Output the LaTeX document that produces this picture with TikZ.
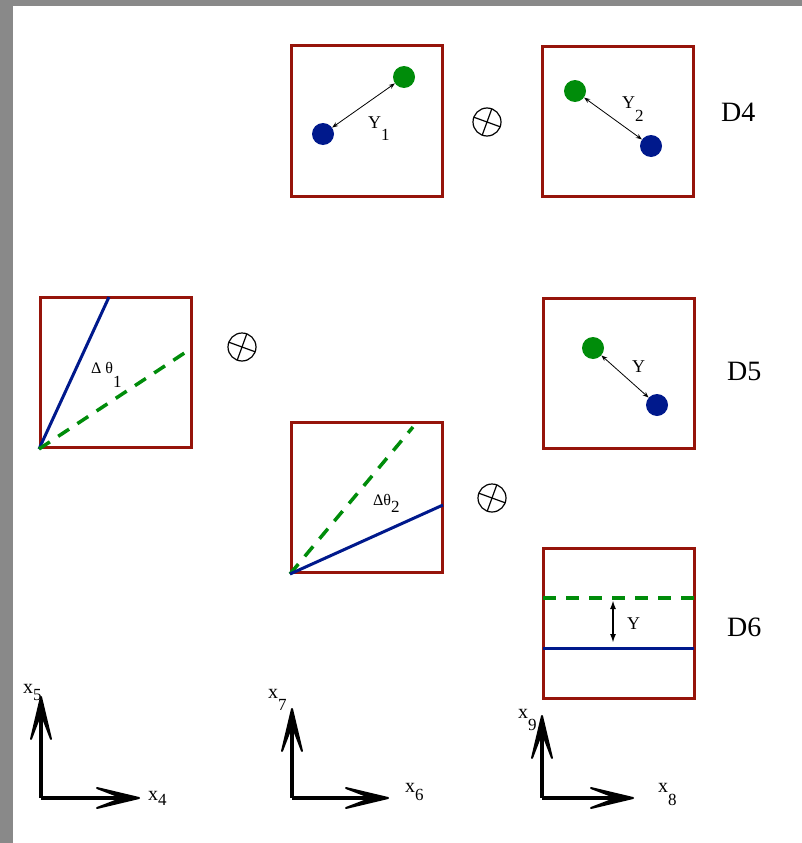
\documentclass[tikz,border=0pt]{standalone}
\usepackage{fontspec}
\setmainfont{Liberation Serif}
\usetikzlibrary{arrows.meta}
\definecolor{boxred}{RGB}{150,20,10}
\definecolor{dotblue}{RGB}{0,25,140}
\definecolor{dotgreen}{RGB}{0,140,10}
\definecolor{bordergray}{RGB}{137,137,137}
\tikzset{
  box/.style={draw=boxred, line width=3pt, minimum width=151pt, minimum height=150pt, inner sep=0pt},
  bdot/.style={circle, fill=dotblue, minimum size=22pt, inner sep=0pt},
  gdot/.style={circle, fill=dotgreen, minimum size=22pt, inner sep=0pt},
  blueline/.style={draw=dotblue, line width=3pt},
  greendash/.style={draw=dotgreen, line width=3.5pt, dash pattern=on 13pt off 10pt},
  thinarrow/.style={line width=0.8pt, {Stealth[open,length=6pt,width=4.5pt]}-{Stealth[open,length=6pt,width=4.5pt]}},
  ydarrow/.style={line width=1.8pt, {Latex[length=9pt,width=6pt]}-{Latex[length=9pt,width=6pt]}},
  axline/.style={line width=3.5pt, shorten >=14pt},
  dart/.style={fill=black, draw=black, line width=2pt, line join=round},
  otimes/.style={circle, draw, line width=1.2pt, minimum size=28pt, inner sep=0pt,
    path picture={
      \draw[line width=1.2pt] ([shift={(160:14pt)}]path picture bounding box.center) -- ([shift={(-20:14pt)}]path picture bounding box.center);
      \draw[line width=1.2pt] ([shift={(70:14pt)}]path picture bounding box.center) -- ([shift={(250:14pt)}]path picture bounding box.center);
    }},
  lab/.style={inner sep=0pt, anchor=base west},
  ylab/.style={lab, font=\fontsize{18pt}{20pt}\selectfont},
  dlab/.style={lab, font=\fontsize{28pt}{30pt}\selectfont},
  tlab/.style={lab, font=\fontsize{16pt}{18pt}\selectfont},
  xlab/.style={lab, font=\fontsize{20pt}{22pt}\selectfont},
}
\newcommand{\mysub}[2]{\raisebox{-#1}{\fontsize{17pt}{19pt}\selectfont #2}}
\newcommand{\updart}[1]{\path[dart] (#1) -- ++(-10,42) -- ++(10,-26) -- ++(10,26) -- cycle;}
\newcommand{\rightdart}[1]{\path[dart] (#1) -- ++(-42,-10) -- ++(26,10) -- ++(-26,10) -- cycle;}
\begin{document}
\begin{tikzpicture}[x=1pt,y=-1pt]
\useasboundingbox (0,0) rectangle (802,843);
\fill[bordergray] (0,0) rectangle (802,6);
\fill[bordergray] (0,0) rectangle (13,843);

% boxes
\node[box] (A) at (367,121) {};
\node[box] (B) at (618,121.5) {};
\node[box] (C) at (116,372.5) {};
\node[box] (D) at (367,497.5) {};
\node[box] (E) at (618.5,373) {};
\node[box] (F) at (618.5,623.5) {};

% box A
\node[bdot] (bA) at (323,134) {};
\node[gdot] (gA) at (404,77) {};
\draw[thinarrow] (bA) -- (gA);
\node[ylab] (y1) at (368,128) {Y\mysub{12pt}{1}};

% box B
\node[gdot] (gB) at (575,91) {};
\node[bdot] (bB) at (651,146) {};
\draw[thinarrow] (gB) -- (bB);
\node[ylab] (y2) at (622,108) {Y\mysub{13pt}{2}};

% box E
\node[gdot] (gE) at (593,348) {};
\node[bdot] (bE) at (657,405) {};
\draw[thinarrow] (gE) -- (bE);
\node[ylab] (yE) at (632,372) {Y};

% box C
\coordinate (cTop) at (109,297);
\coordinate (cRight) at (192,348);
\draw[blueline] (C.south west) -- (cTop);
\draw[greendash] (C.south west) -- (cRight);
\node[tlab] (t1) at (91,373) {Δ θ\mysub{14pt}{1}};

% box D
\coordinate (dTop) at (413,427);
\coordinate (dRight) at (443,505);
\draw[greendash] (D.south west) -- (dTop);
\draw[blueline] (D.south west) -- (dRight);
\node[tlab] (t2) at (373,505) {Δθ\mysub{7pt}{2}};

% box F
\coordinate (fgL) at (543,598);
\coordinate (fgR) at (694,598);
\coordinate (fbL) at (543,648);
\coordinate (fbR) at (694,648);
\draw[greendash] (fgL) -- (fgR);
\draw[blueline] (fbL) -- (fbR);
\coordinate (fa1) at (613,600);
\coordinate (fa2) at (613,643);
\draw[ydarrow] (fa1) -- (fa2);
\node[ylab] (yF) at (627,629) {Y};

% D labels
\node[dlab] (d4) at (721,121) {D4};
\node[dlab] (d5) at (727,380) {D5};
\node[dlab] (d6) at (727,636) {D6};

% otimes
\node[otimes] (o1) at (487,122) {};
\node[otimes] (o2) at (242,347) {};
\node[otimes] (o3) at (492,498) {};

% axes
\coordinate (O1) at (41,798);
\coordinate (O1y) at (41,697);
\coordinate (O1x) at (139,798);
\draw[axline] (O1) -- (O1y);
\draw[axline] (O1) -- (O1x);
\updart{O1y}
\rightdart{O1x}
\node[xlab] (x5) at (23,693) {x\mysub{7pt}{5}};
\node[xlab] (x4) at (148,800) {x\mysub{5pt}{4}};

\coordinate (O2) at (292,798);
\coordinate (O2y) at (292,709);
\coordinate (O2x) at (388,798);
\draw[axline] (O2) -- (O2y);
\draw[axline] (O2) -- (O2x);
\updart{O2y}
\rightdart{O2x}
\node[xlab] (x7) at (268,698) {x\mysub{12pt}{7}};
\node[xlab] (x6) at (405,792) {x\mysub{8pt}{6}};

\coordinate (O3) at (542,798);
\coordinate (O3y) at (542,716);
\coordinate (O3x) at (633,798);
\draw[axline] (O3) -- (O3y);
\draw[axline] (O3) -- (O3x);
\updart{O3y}
\rightdart{O3x}
\node[xlab] (x9) at (518,718) {x\mysub{12pt}{9}};
\node[xlab] (x8) at (658,792) {x\mysub{13pt}{8}};
\end{tikzpicture}
\end{document}
